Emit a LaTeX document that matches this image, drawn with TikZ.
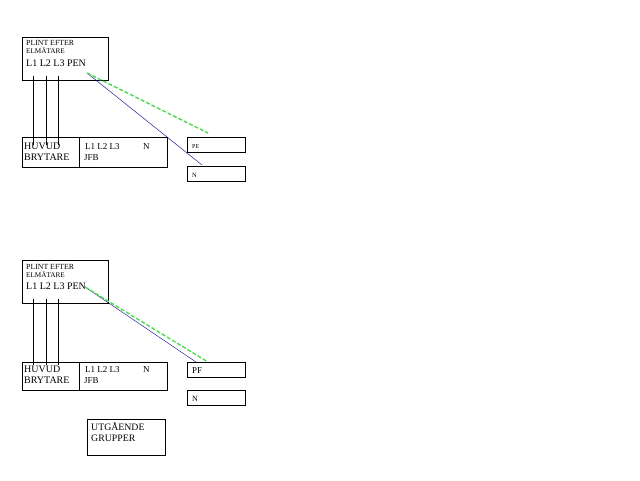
\documentclass[tikz,border=0pt]{standalone}
\usepackage{fontspec}
\setmainfont{Liberation Serif}
\tikzset{
  box/.style={draw, thick, anchor=north west, inner sep=0pt},
  txt/.style={anchor=base west, inner sep=0pt},
  peline/.style={draw=green!80!black!70, dash pattern=on 4pt off 2pt, line width=1.4pt},
  nline/.style={draw=blue!55!black}
}
\begin{document}
\begin{tikzpicture}[x=1pt,y=-1pt]
	\useasboundingbox (0,0) rectangle (640,480);
	% upper sketch
	\node[box, minimum width=86pt, minimum height=43pt] (plintA) at (22,37) {};
	\node[box, minimum width=57pt, minimum height=30pt] (huvudA) at (22,137) {};
	\node[box, minimum width=88pt, minimum height=30pt] (jfbA) at (79,137) {};
	\node[box, minimum width=58pt, minimum height=15pt] (peA) at (187,137) {};
	\node[box, minimum width=58pt, minimum height=15pt] (nA) at (187,166) {};
	\node[txt, font=\fontsize{7.8}{8}\selectfont] (plA) at (26,45) {PLINT EFTER};
	\node[txt, font=\fontsize{7.2}{8}\selectfont] (elA) at (26,53) {ELMÄTARE};
	\node[txt, font=\fontsize{10}{11}\selectfont] (lA) at (26,66) {L1 L2 L3 PEN};
	\node[txt, font=\fontsize{10}{11}\selectfont] at (24,149) {HUVUD};
	\node[txt, font=\fontsize{10}{11}\selectfont] at (24,160) {BRYTARE};
	\node[txt, font=\fontsize{9}{11}\selectfont] at (85,149) {L1 L2 L3};
	\node[txt, font=\fontsize{9}{11}\selectfont] at (143,149) {N};
	\node[txt, font=\fontsize{9}{11}\selectfont] at (84,160) {JFB};
	\node[txt, font=\fontsize{6}{7}\selectfont] at (192,148) {PE};
	\node[txt, font=\fontsize{6.5}{7}\selectfont] at (192,177) {N};
	\foreach \x [count=\i] in {33,46,58} {
		\coordinate (topA\i) at (\x,76);
		\coordinate (botA\i) at (\x,145);
		\draw (topA\i) -- (botA\i);
	}
	\coordinate (penA) at (87,73);
	\coordinate (peEndA) at (208,133);
	\coordinate (nEndA) at (202,165);
	\draw[nline] (penA) -- (nEndA);
	\draw[peline] (penA) -- (peEndA);
	% lower sketch
	\node[box, minimum width=86pt, minimum height=43pt] (plintB) at (22,260) {};
	\node[box, minimum width=57pt, minimum height=28pt] (huvudB) at (22,362) {};
	\node[box, minimum width=88pt, minimum height=28pt] (jfbB) at (79,362) {};
	\node[box, minimum width=58pt, minimum height=15pt] (pfB) at (187,362) {};
	\node[box, minimum width=58pt, minimum height=15pt] (nB) at (187,390) {};
	\node[box, minimum width=78pt, minimum height=36pt] (utgB) at (87,419) {};
	\node[txt, font=\fontsize{7.8}{8}\selectfont] at (26,269) {PLINT EFTER};
	\node[txt, font=\fontsize{7.2}{8}\selectfont] at (26,277) {ELMÄTARE};
	\node[txt, font=\fontsize{10}{11}\selectfont] at (26,289) {L1 L2 L3 PEN};
	\node[txt, font=\fontsize{10}{11}\selectfont] at (24,372) {HUVUD};
	\node[txt, font=\fontsize{10}{11}\selectfont] at (24,383) {BRYTARE};
	\node[txt, font=\fontsize{9}{11}\selectfont] at (85,372) {L1 L2 L3};
	\node[txt, font=\fontsize{9}{11}\selectfont] at (143,372) {N};
	\node[txt, font=\fontsize{9}{11}\selectfont] at (84,383) {JFB};
	\node[txt, font=\fontsize{9}{11}\selectfont] at (192,373) {PF};
	\node[txt, font=\fontsize{8}{9}\selectfont] at (192,401) {N};
	\node[txt, font=\fontsize{9.8}{10}\selectfont] at (91,430) {UTGÅENDE};
	\node[txt, font=\fontsize{9.8}{10}\selectfont] at (91,441) {GRUPPER};
	\foreach \x [count=\i] in {33,46,58} {
		\coordinate (topB\i) at (\x,299);
		\coordinate (botB\i) at (\x,365);
		\draw (topB\i) -- (botB\i);
	}
	\coordinate (penB) at (85,287);
	\coordinate (peEndB) at (208,362);
	\coordinate (nEndB) at (196,362);
	\draw[nline] (penB) -- (nEndB);
	\draw[peline] (penB) -- (peEndB);
\end{tikzpicture}
\end{document}
